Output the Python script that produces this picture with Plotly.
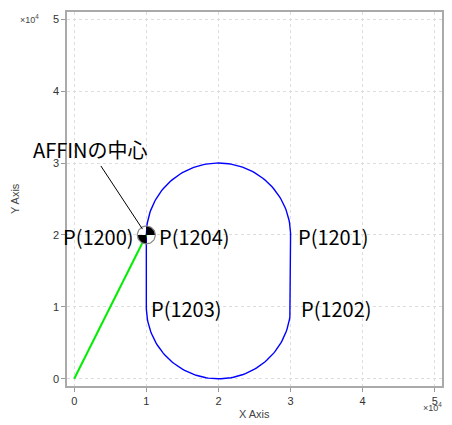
import numpy as np
import plotly.graph_objects as go

# ---- data (units of 1e4) ----
point_names = ["P(1200)", "P(1201)", "P(1202)", "P(1203)", "P(1204)"]
point_x = [1, 3, 3, 1, 1]
point_y = [2, 2, 1, 1, 2]
top_arc_center = (2, 2)
bottom_arc_center = (2, 1)
arc_radius = 1
origin = (0, 0)
affin_center = (1, 2)
affin_label = "AFFINの中心"
tick_vals = [0, 1, 2, 3, 4, 5]
tick_text = ["0", "1", "2", "3", "4", "5"]

# ---- build the stadium contour ----
t_top = np.linspace(np.pi, 0, 91)
t_bot = np.linspace(0, -np.pi, 91)
cx_t, cy_t = top_arc_center
cx_b, cy_b = bottom_arc_center
path_x = ([point_x[0]] + list(cx_t + arc_radius * np.cos(t_top)) + [point_x[1], point_x[2]]
          + list(cx_b + arc_radius * np.cos(t_bot)) + [point_x[3], point_x[0]])
path_y = ([point_y[0]] + list(cy_t + arc_radius * np.sin(t_top)) + [point_y[1], point_y[2]]
          + list(cy_b + arc_radius * np.sin(t_bot)) + [point_y[3], point_y[0]])

fig = go.Figure()
fig.add_trace(go.Scatter(x=path_x, y=path_y, mode="lines",
                         line=dict(color="#0000ff", width=1.4), hoverinfo="skip"))
fig.add_trace(go.Scatter(x=[origin[0], affin_center[0]], y=[origin[1], affin_center[1]],
                         mode="lines", line=dict(color="#00ee00", width=2), hoverinfo="skip"))

# centre-of-gravity symbol (circle with black quadrants)
r = 0.125
cx, cy = affin_center
th = np.linspace(0, np.pi / 2, 20)
fig.add_trace(go.Scatter(x=[cx] + list(cx + r * np.cos(th)) + [cx],
                         y=[cy] + list(cy + r * np.sin(th)) + [cy],
                         mode="lines", fill="toself", fillcolor="black",
                         line=dict(width=0, color="black"), hoverinfo="skip"))
th2 = np.linspace(np.pi, 1.5 * np.pi, 20)
fig.add_trace(go.Scatter(x=[cx] + list(cx + r * np.cos(th2)) + [cx],
                         y=[cy] + list(cy + r * np.sin(th2)) + [cy],
                         mode="lines", fill="toself", fillcolor="black",
                         line=dict(width=0, color="black"), hoverinfo="skip"))
thc = np.linspace(0, 2 * np.pi, 73)
fig.add_trace(go.Scatter(x=cx + r * np.cos(thc), y=cy + r * np.sin(thc), mode="lines",
                         line=dict(color="#888888", width=1.2), hoverinfo="skip"))

lab_font = dict(family="Noto Sans CJK JP", size=20, color="black")
shifts = {"P(1200)": (-10, "right"), "P(1201)": (5, "left"), "P(1202)": (8, "left"),
          "P(1203)": (3, "left"), "P(1204)": (11, "left")}
for n, x, y in zip(point_names, point_x, point_y):
    xs, anc = shifts[n]
    fig.add_annotation(x=x, y=y, text=n, showarrow=False, xanchor=anc, yanchor="middle",
                       xshift=xs, yshift=-2, font=lab_font)

fig.add_annotation(x=affin_center[0], y=affin_center[1], text=affin_label, showarrow=True,
                   arrowhead=0, arrowwidth=1, arrowcolor="black", ax=-56, ay=-85,
                   standoff=7, font=lab_font)

small = dict(family="Liberation Sans", size=9, color="#444444")
fig.add_annotation(xref="paper", yref="paper", x=0, y=1, xshift=-49, yshift=1,
                   text="×10<sup>4</sup>", showarrow=False, font=small)
fig.add_annotation(xref="paper", yref="paper", x=1, y=0, xshift=2, yshift=-29,
                   text="×10<sup>4</sup>", showarrow=False, font=small)

title_font = dict(family="Liberation Sans", size=11, color="#444444")
fig.add_annotation(xref="paper", yref="paper", x=0.5, y=0, yshift=-28, yanchor="middle",
                   text="X Axis", showarrow=False, font=title_font)
fig.add_annotation(xref="paper", yref="paper", x=0, y=0.5, xshift=-52, xanchor="center",
                   text="Y Axis", textangle=-90, showarrow=False, font=title_font)

axis_common = dict(range=[-0.1, 5.1], tickvals=tick_vals, ticktext=tick_text,
                   ticks="outside", ticklen=4, tickcolor="#999999",
                   showline=True, linecolor="#aaaaaa", linewidth=1.5, mirror=True,
                   showgrid=True, gridcolor="#dddddd", griddash="dot", gridwidth=1,
                   zeroline=False, automargin=False,
                   tickfont=dict(family="Liberation Sans", size=11, color="#333333"),
                   fixedrange=True)
fig.update_xaxes(**axis_common)
fig.update_yaxes(**axis_common)

fig.update_layout(width=452, height=425, margin=dict(l=67, r=10, t=12, b=39),
                  plot_bgcolor="white", paper_bgcolor="white", showlegend=False)
fig.write_html("out.html")
